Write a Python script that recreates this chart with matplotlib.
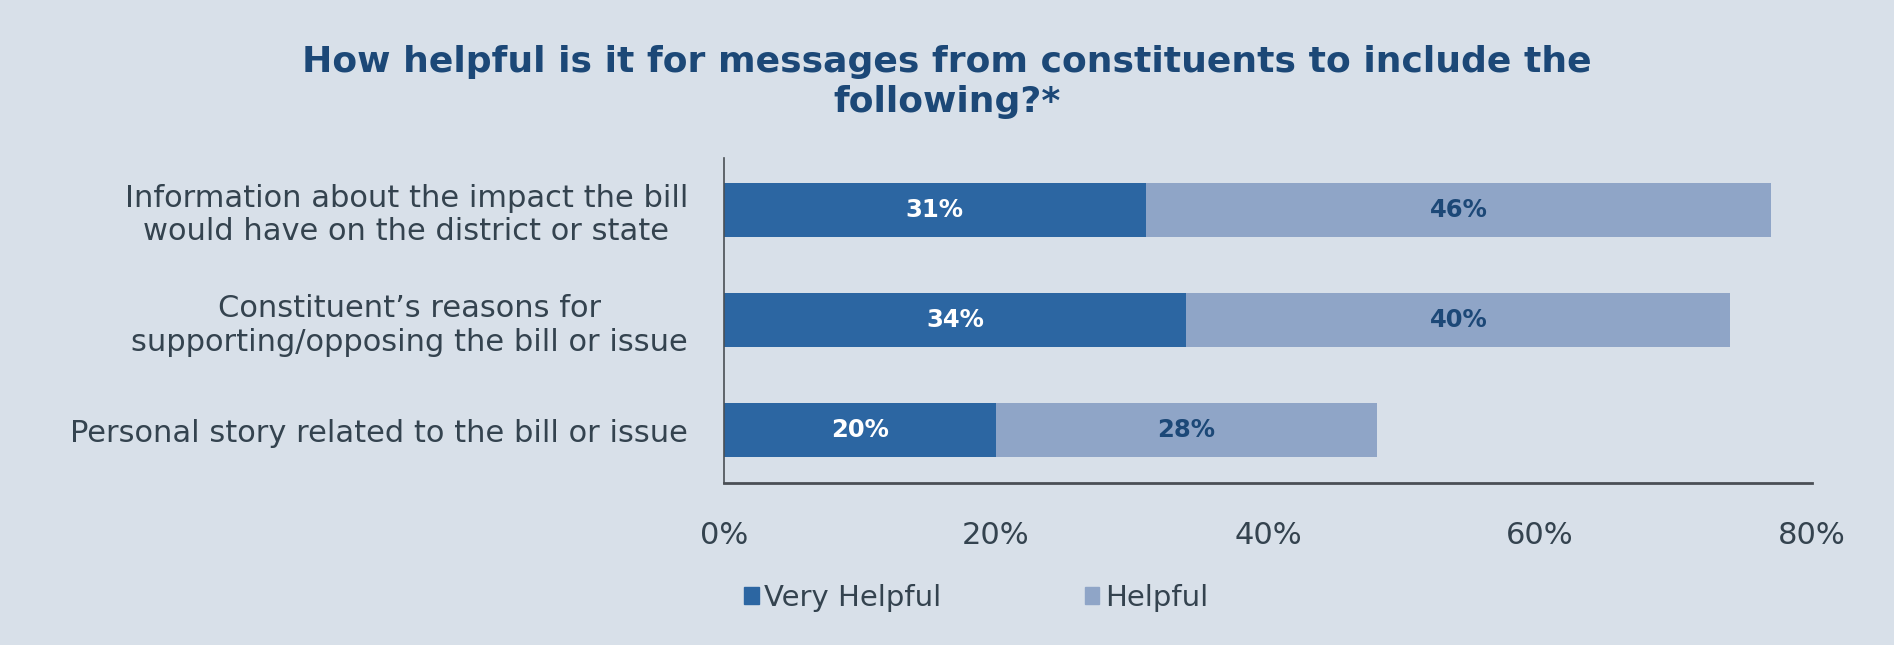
import matplotlib.pyplot as plt
from matplotlib.patches import Patch

# data
categories = [
    "Information about the impact the bill\nwould have on the district or state",
    "Constituent\u2019s reasons for\nsupporting/opposing the bill or issue",
    "Personal story related to the bill or issue",
]
very_helpful = [31, 34, 20]
helpful = [46, 40, 28]
tick_vals = [0, 20, 40, 60, 80]
tick_labels = ["0%", "20%", "40%", "60%", "80%"]
series_names = ["Very Helpful", "Helpful"]

bg = "#d8e0e9"
dark = "#2c66a2"
light = "#8fa5c7"
navy = "#1c4877"
txt = "#34434f"

plt.rcParams["font.family"] = ["DejaVu Sans"]

fig = plt.figure(figsize=(18.94, 6.45), dpi=100, facecolor=bg)
ax = fig.add_axes([0.3823, 0.251, 0.5744, 0.504])
ax.set_facecolor(bg)

y = list(range(len(categories)))
ax.barh(y, very_helpful, height=0.49, color=dark)
ax.barh(y, helpful, left=very_helpful, height=0.49, color=light)

for i in y:
    ax.text(very_helpful[i] / 2, i, f"{very_helpful[i]}%", ha="center", va="center",
            color="white", fontsize=17.5, fontweight="bold")
    ax.text(very_helpful[i] + helpful[i] / 2, i, f"{helpful[i]}%", ha="center",
            va="center", color=navy, fontsize=17.5, fontweight="bold")

ax.set_xlim(0, 80)
ax.set_ylim(2.48, -0.47)
ax.set_xticks(tick_vals)
ax.set_xticklabels(tick_labels)
ax.set_yticks(y)
ax.set_yticklabels(categories, ha="right", multialignment="center")
ax.tick_params(axis="x", length=0, pad=27, labelsize=22, labelcolor=txt)
ax.tick_params(axis="y", length=0, pad=26, labelsize=22, labelcolor=txt)

for s in ["top", "right"]:
    ax.spines[s].set_visible(False)
ax.spines["left"].set_color("#4a4f55")
ax.spines["left"].set_linewidth(1.2)
ax.spines["bottom"].set_color("#4a4f55")
ax.spines["bottom"].set_linewidth(2)

fig.text(0.5, 0.873, "How helpful is it for messages from constituents to include the\nfollowing?*",
         ha="center", va="center", fontsize=26, fontweight="bold", color=navy,
         linespacing=1.25)

handles = [Patch(color=dark), Patch(color=light)]
fig.legend(handles, series_names, loc="center left", bbox_to_anchor=(0.379, 0.073),
           ncol=2, frameon=False, fontsize=21, labelcolor=txt,
           handlelength=0.5, handleheight=0.5, handletextpad=0.2, columnspacing=4.9)

fig.savefig("out.png", dpi=100, facecolor=bg)
